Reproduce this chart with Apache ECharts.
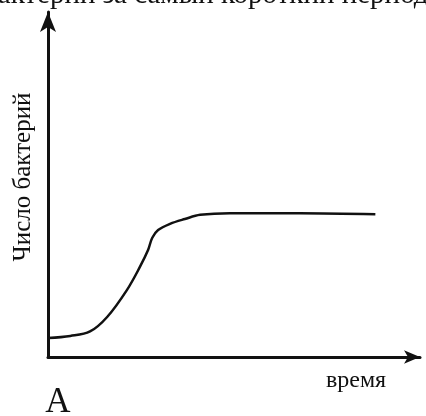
<!DOCTYPE html>
<html>
<head>
<meta charset="utf-8">
<script src="https://cdn.jsdelivr.net/npm/echarts@6/dist/echarts.min.js"></script>
<style>
html,body{margin:0;padding:0;background:#fff;}
#main{width:426px;height:416px;}
</style>
</head>
<body>
<div id="main"></div>
<script>
// время (условные единицы) и число бактерий
var timeVals = [0, 6, 11.3, 15.9, 21.2, 24.7, 26.9, 28, 29.6, 32.8, 36.8, 40.9, 48.9, 67.7, 88];
var countVals = [5.5, 6.1, 7.4, 11.6, 19.4, 26.1, 31, 34.5, 36.8, 38.6, 40, 41.2, 41.7, 41.7, 41.4];
var xTitle = "время";
var yTitle = "Число бактерий";
var topText = "бактерий за самый короткий период";
var panelLabel = "А";

var pts = [];
for (var i = 0; i < timeVals.length; i++) {
    pts.push([timeVals[i], countVals[i]]);
}

var myChart = echarts.init(document.getElementById("main"));
var serif = '"Liberation Serif", "DejaVu Serif", serif';
var option = {
    animation: false,
    backgroundColor: "#fff",
    grid: { left: 48, right: 6, top: 12, bottom: 59 },
    xAxis: {
        type: "value", min: 0, max: 100,
        axisLine: { lineStyle: { color: "#111", width: 3 }, symbol: ["none", "arrow"], symbolSize: [10, 16] },
        axisTick: { show: false }, axisLabel: { show: false }, splitLine: { show: false }
    },
    yAxis: {
        type: "value", min: 0, max: 100,
        axisLine: { show: true, lineStyle: { color: "#111", width: 3 }, symbol: ["none", "arrow"], symbolSize: [12, 20] },
        axisTick: { show: false }, axisLabel: { show: false }, splitLine: { show: false }
    },
    series: [{
        type: "line",
        data: pts,
        smooth: 0.35,
        showSymbol: false,
        lineStyle: { color: "#111", width: 2.5 }
    }],
    graphic: [
        { type: "text", x: -17, y: 10, style: { text: topText, font: "29px " + serif, fill: "#111", verticalAlign: "bottom" } },
        { type: "text", x: 23, y: 177, rotation: Math.PI / 2, style: { text: yTitle, font: "25px " + serif, fill: "#111", align: "center", verticalAlign: "middle" } },
        { type: "text", x: 356, y: 381, style: { text: xTitle, font: "24px " + serif, fill: "#111", align: "center", verticalAlign: "middle" } },
        { type: "text", x: 58, y: 403, style: { text: panelLabel, font: "35px " + serif, fill: "#111", align: "center", verticalAlign: "middle" } }
    ]
};
myChart.setOption(option);
</script>
</body>
</html>
